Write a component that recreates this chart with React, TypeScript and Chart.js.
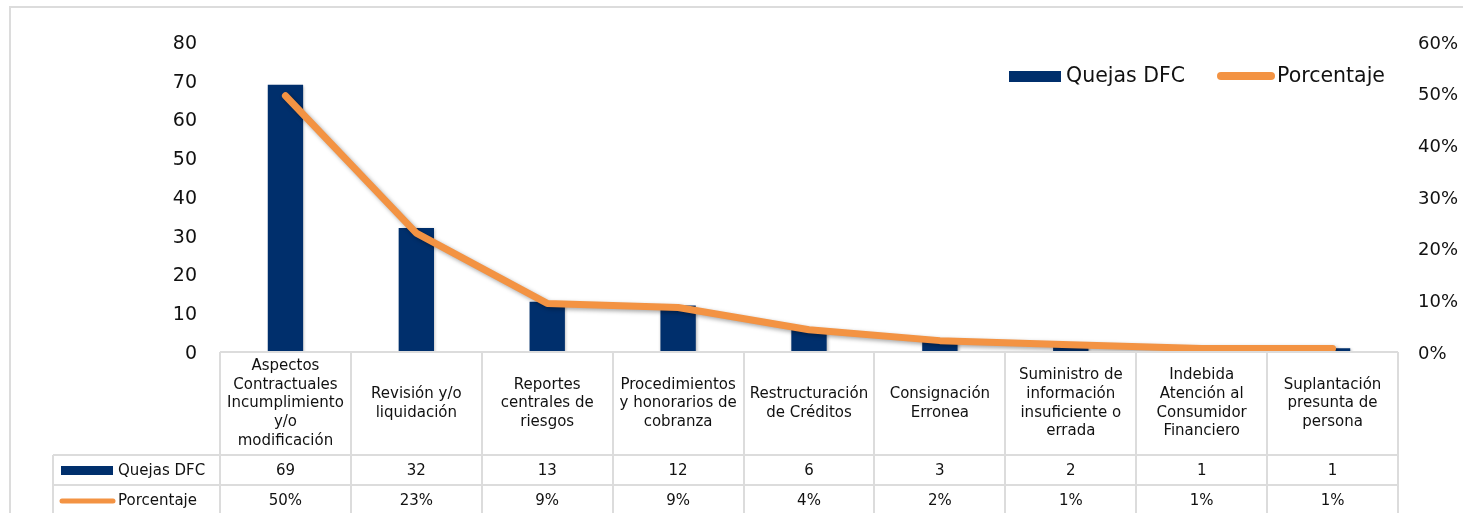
import React, { useEffect, useRef } from "react";
import { Chart, registerables } from "chart.js";

Chart.register(...registerables);

const categories: string[][] = [
  ["Aspectos", "Contractuales", "Incumplimiento", "y/o", "modificación"],
  ["Revisión y/o", "liquidación"],
  ["Reportes", "centrales de", "riesgos"],
  ["Procedimientos", "y honorarios de", "cobranza"],
  ["Restructuración", "de Créditos"],
  ["Consignación", "Erronea"],
  ["Suministro de", "información", "insuficiente o", "errada"],
  ["Indebida", "Atención al", "Consumidor", "Financiero"],
  ["Suplantación", "presunta de", "persona"],
];
const quejas = [69, 32, 13, 12, 6, 3, 2, 1, 1];
const porcentaje = [49.6, 23.0, 9.4, 8.6, 4.3, 2.2, 1.4, 0.7, 0.7];
const porcentajeLabels = ["50%", "23%", "9%", "9%", "4%", "2%", "1%", "1%", "1%"];
const seriesNames = ["Quejas DFC", "Porcentaje"];

const BAR_COLOR = "#002f6c";
const LINE_COLOR = "#f39343";
const GRID_COLOR = "#dcdcdc";
const FONT = "'DejaVu Sans', sans-serif";

const shadowPlugin = {
  id: "shadowPlugin",
  beforeDatasetDraw(chart: any, args: any) {
    const ctx = chart.ctx;
    ctx.save();
    if (args.meta.type === "line") {
      ctx.shadowColor = "rgba(0,0,0,0.35)";
      ctx.shadowBlur = 4;
      ctx.shadowOffsetX = 2;
      ctx.shadowOffsetY = 2;
    } else {
      ctx.shadowColor = "rgba(0,0,0,0.3)";
      ctx.shadowBlur = 3;
      ctx.shadowOffsetX = 1;
      ctx.shadowOffsetY = 1;
    }
  },
  afterDatasetDraw(chart: any) {
    chart.ctx.restore();
  },
};

const tablePlugin = {
  id: "tablePlugin",
  afterDraw(chart: any) {
    const ctx: CanvasRenderingContext2D = chart.ctx;
    const area = chart.chartArea;
    const xs = chart.scales.x;
    const n = categories.length;
    const L = area.left;
    const R = area.right;
    const B = area.bottom;
    const colW = (R - L) / n;
    const headerBottom = B + 103;
    const row1Bottom = headerBottom + 30;
    const row2Bottom = row1Bottom + 30;
    const labelLeft = 53;

    ctx.save();
    // outer frame
    ctx.strokeStyle = GRID_COLOR;
    ctx.lineWidth = 2;
    ctx.beginPath();
    ctx.moveTo(10, chart.height + 2);
    ctx.lineTo(10, 7);
    ctx.lineTo(chart.width + 2, 7);
    ctx.stroke();

    // grid
    ctx.beginPath();
    ctx.moveTo(L, B);
    ctx.lineTo(R, B);
    ctx.moveTo(labelLeft, headerBottom);
    ctx.lineTo(R, headerBottom);
    ctx.moveTo(labelLeft, row1Bottom);
    ctx.lineTo(R, row1Bottom);
    ctx.moveTo(labelLeft, row2Bottom);
    ctx.lineTo(R, row2Bottom);
    ctx.moveTo(labelLeft, headerBottom);
    ctx.lineTo(labelLeft, chart.height + 2);
    for (let i = 0; i <= n; i++) {
      const x = Math.round(L + i * colW);
      ctx.moveTo(x, B);
      ctx.lineTo(x, chart.height + 2);
    }
    ctx.stroke();

    // header labels
    ctx.fillStyle = "#111";
    ctx.font = `15px ${FONT}`;
    ctx.textAlign = "center";
    ctx.textBaseline = "middle";
    const lh = 18.7;
    const midY = (B + headerBottom) / 2;
    categories.forEach((lines, i) => {
      const cx = xs.getPixelForValue(i);
      const startY = midY - ((lines.length - 1) * lh) / 2;
      lines.forEach((t, j) => ctx.fillText(t, cx, startY + j * lh));
    });

    // values
    const r1 = (headerBottom + row1Bottom) / 2 + 1;
    const r2 = (row1Bottom + row2Bottom) / 2 + 1;
    quejas.forEach((v, i) => ctx.fillText(String(v), xs.getPixelForValue(i), r1));
    porcentajeLabels.forEach((v, i) => ctx.fillText(v, xs.getPixelForValue(i), r2));

    // row labels with swatches
    ctx.textAlign = "left";
    ctx.fillStyle = BAR_COLOR;
    ctx.fillRect(61, r1 - 5, 52, 9);
    ctx.strokeStyle = LINE_COLOR;
    ctx.lineWidth = 5;
    ctx.lineCap = "round";
    ctx.beginPath();
    ctx.moveTo(62, r2);
    ctx.lineTo(113, r2);
    ctx.stroke();
    ctx.fillStyle = "#111";
    ctx.fillText(seriesNames[0], 118, r1);
    ctx.fillText(seriesNames[1], 118, r2);

    // top legend
    ctx.font = `20.5px ${FONT}`;
    const ly = 77;
    ctx.fillStyle = BAR_COLOR;
    ctx.fillRect(1009, 71, 52, 11);
    ctx.strokeStyle = LINE_COLOR;
    ctx.lineWidth = 8;
    ctx.beginPath();
    ctx.moveTo(1221, 76);
    ctx.lineTo(1271, 76);
    ctx.stroke();
    ctx.fillStyle = "#111";
    ctx.fillText(seriesNames[0], 1066, ly);
    ctx.fillText(seriesNames[1], 1277, ly);
    ctx.restore();
  },
};

export default function App() {
  const ref = useRef<HTMLCanvasElement | null>(null);
  useEffect(() => {
    if (!ref.current) return;
    const chart = new Chart(ref.current, {
      type: "bar",
      data: {
        labels: categories.map((c) => c.join(" ")),
        datasets: [
          {
            type: "line",
            label: seriesNames[1],
            data: porcentaje,
            yAxisID: "y1",
            borderColor: LINE_COLOR,
            backgroundColor: LINE_COLOR,
            borderWidth: 7,
            borderCapStyle: "round",
            borderJoinStyle: "round",
            pointRadius: 0,
            tension: 0,
            order: 0,
          } as any,
          {
            type: "bar",
            label: seriesNames[0],
            data: quejas,
            yAxisID: "y",
            backgroundColor: BAR_COLOR,
            barPercentage: 0.27,
            categoryPercentage: 1,
            order: 1,
          } as any,
        ],
      },
      options: {
        responsive: false,
        devicePixelRatio: 1,
        animation: false,
        layout: { padding: { top: 42, bottom: 161, left: 0, right: 0 } },
        plugins: { legend: { display: false }, tooltip: { enabled: false } },
        scales: {
          x: { display: false, offset: true },
          y: {
            position: "left",
            min: 0,
            max: 80,
            ticks: {
              stepSize: 10,
              padding: 23,
              labelOffset: 2,
              color: "#111",
              font: { family: FONT, size: 19 },
            },
            grid: { display: false, drawTicks: false },
            border: { display: false },
            afterFit: (s: any) => {
              s.width = 220;
            },
          },
          y1: {
            position: "right",
            min: 0,
            max: 60,
            ticks: {
              stepSize: 10,
              padding: 20,
              labelOffset: 2,
              color: "#111",
              font: { family: FONT, size: 18 },
              callback: (v: any) => `${v}%`,
            },
            grid: { display: false, drawTicks: false },
            border: { display: false },
            afterFit: (s: any) => {
              s.width = 65;
            },
          },
        },
      } as any,
      plugins: [shadowPlugin, tablePlugin],
    });
    return () => chart.destroy();
  }, []);
  return (
    <div style={{ position: "absolute", left: 0, top: 0, width: 1463, height: 513, background: "#fff" }}>
      <canvas ref={ref} width={1463} height={513} style={{ display: "block" }} />
    </div>
  );
}
